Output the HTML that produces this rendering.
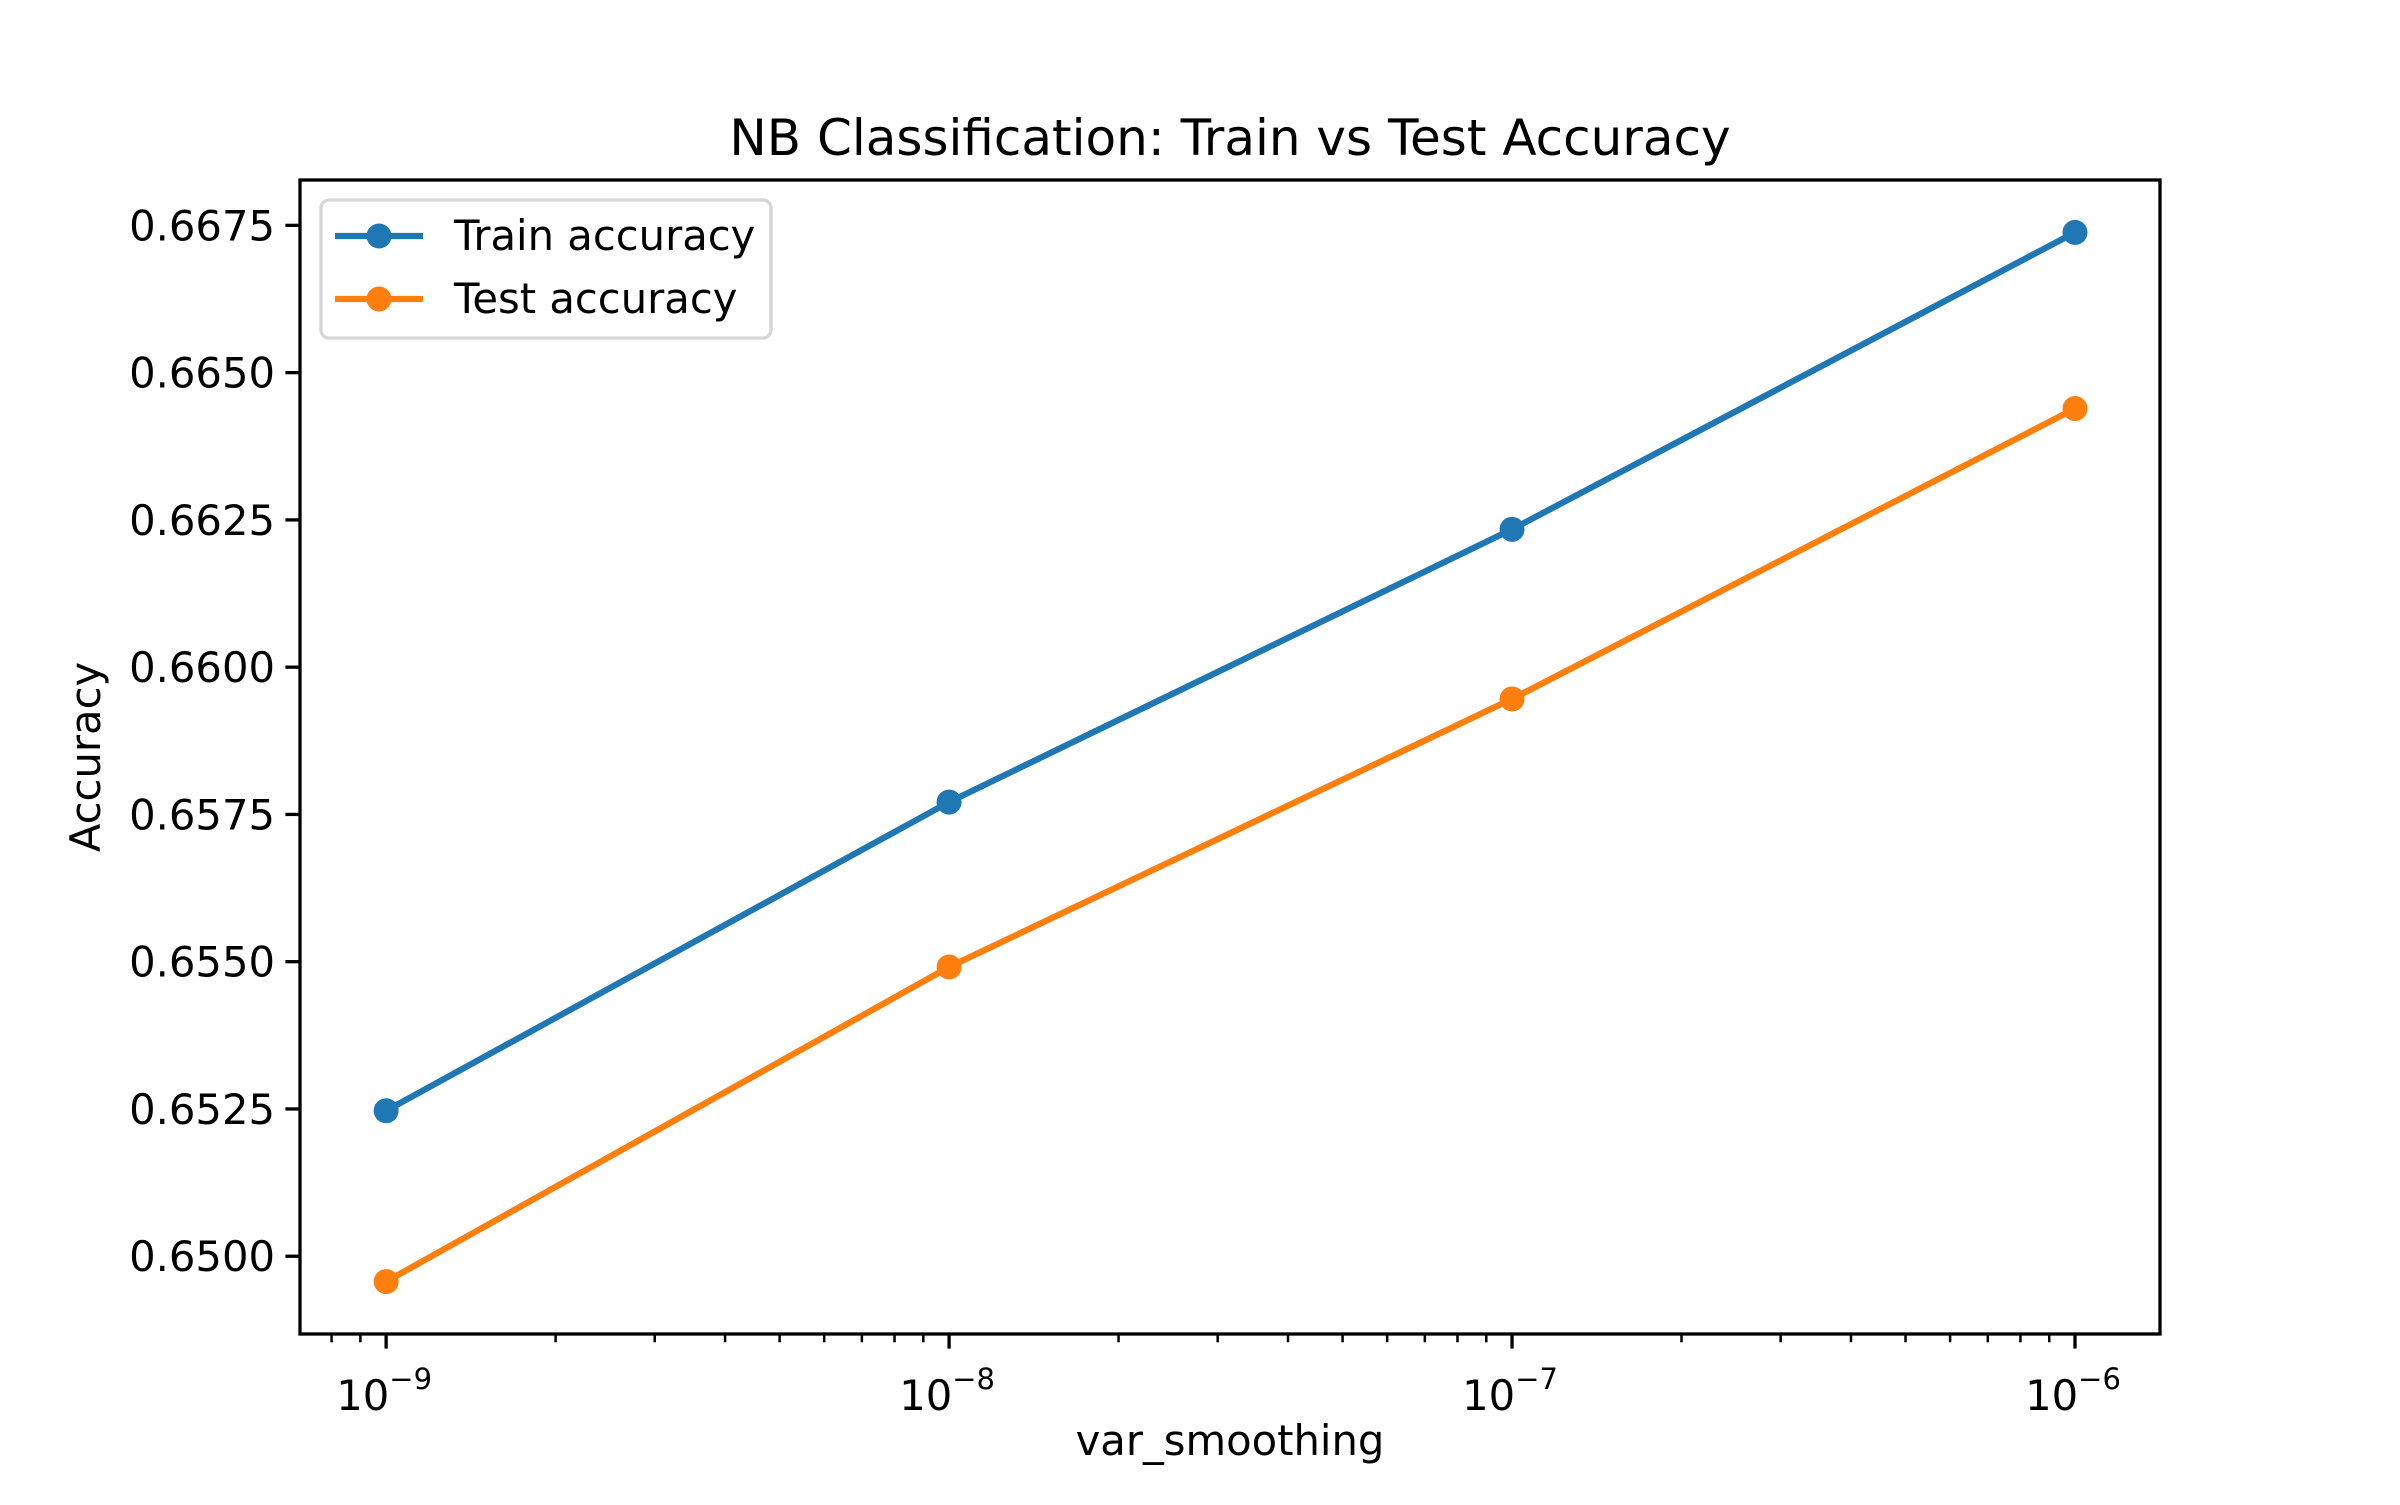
<!DOCTYPE html>
<html><head><meta charset="utf-8"><style>
html,body{margin:0;padding:0;background:#fff;}
svg text{font-family:"DejaVu Sans","Liberation Sans",sans-serif;fill:#000;}
</style></head><body>
<svg id="chart" width="2400" height="1500" viewBox="0 0 2400 1500" xmlns="http://www.w3.org/2000/svg">
<rect width="2400" height="1500" fill="#fff"/>
<text x="1230" y="155" font-size="50" text-anchor="middle">NB Classification: Train vs Test Accuracy</text>
<g id="plot"></g>
<rect x="300" y="180" width="1860" height="1154" fill="none" stroke="#000" stroke-width="3.3"/>
<text x="1230" y="1455" font-size="41.7" text-anchor="middle">var_smoothing</text>
<text transform="translate(100,757) rotate(-90)" font-size="41.7" text-anchor="middle">Accuracy</text>
<g>
<rect x="321" y="200" width="450" height="138" rx="8" fill="#fff" fill-opacity="0.8" stroke="#d6d6d6" stroke-width="3.3"/>
<line x1="335" y1="236" x2="423" y2="236" stroke="#1f77b4" stroke-width="6.25"/>
<circle cx="379" cy="236" r="12.5" fill="#1f77b4"/>
<text x="454" y="250" font-size="41.7">Train accuracy</text>
<line x1="335" y1="299" x2="423" y2="299" stroke="#ff7f0e" stroke-width="6.25"/>
<circle cx="379" cy="299" r="12.5" fill="#ff7f0e"/>
<text x="454" y="313" font-size="41.7">Test accuracy</text>
</g>
</svg>
<script>
const xExponents = [-9, -8, -7, -6];
const trainAcc = [0.65247, 0.65771, 0.66234, 0.66738];
const testAcc = [0.64957, 0.65491, 0.65946, 0.66439];
const yTicks = [0.6500, 0.6525, 0.6550, 0.6575, 0.6600, 0.6625, 0.6650, 0.6675];
const yTickLabels = ["0.6500","0.6525","0.6550","0.6575","0.6600","0.6625","0.6650","0.6675"];

const L=300,R=2160,T=180,B=1334;
const xMin=-9.153,xMax=-5.849,yMin=0.64868,yMax=0.66827;
function xs(e){return L+(e-xMin)/(xMax-xMin)*(R-L);}
function ys(v){return B-(v-yMin)/(yMax-yMin)*(B-T);}
const NS="http://www.w3.org/2000/svg";
const g=document.getElementById('plot');
function mk(tag,attrs){const el=document.createElementNS(NS,tag);for(const k in attrs)el.setAttribute(k,attrs[k]);g.appendChild(el);return el;}

yTicks.forEach((v,i)=>{
  const y=ys(v);
  const t=mk('line',{x1:L-14.6,x2:L,y1:y,y2:y,stroke:'#000','stroke-width':3.3});
  
  
  const tx=mk('text',{x:L-25,y:y+15,'font-size':41.7,'text-anchor':'end'});
  tx.textContent=yTickLabels[i];
  
  
});
for(let d=-10; d<=-6; d++){
  for(let m=1;m<10;m++){
    const e=d+Math.log10(m);
    if(e<xMin||e>xMax) continue;
    const x=xs(e);
    const major=(m===1);
    const t=mk('line',{x1:x,x2:x,y1:B,y2:B+(major?14.6:8.3),stroke:'#000','stroke-width':major?3.3:2.5});
    
    
  }
}
xExponents.forEach(e=>{
  const x=xs(e);
  const tx=mk('text',{x:x-2,y:B+76,'font-size':41.7,'text-anchor':'middle'});
  
  
  tx.innerHTML='10<tspan dy="-21" font-size="29">\u2212'+(-e)+'</tspan>';
});
function series(vals,color,name){
  const pts=vals.map((v,i)=>xs(xExponents[i])+','+ys(v)).join(' ');
  const pl=mk('polyline',{points:pts,fill:'none',stroke:color,'stroke-width':6.25,'stroke-linejoin':'round'});
  
  
  vals.forEach((v,i)=>{
    const c=mk('circle',{cx:xs(xExponents[i]),cy:ys(v),r:12.5,fill:color});
    
    
  });
}
series(trainAcc,'#1f77b4','train');
series(testAcc,'#ff7f0e','test');
</script>
</body></html>
